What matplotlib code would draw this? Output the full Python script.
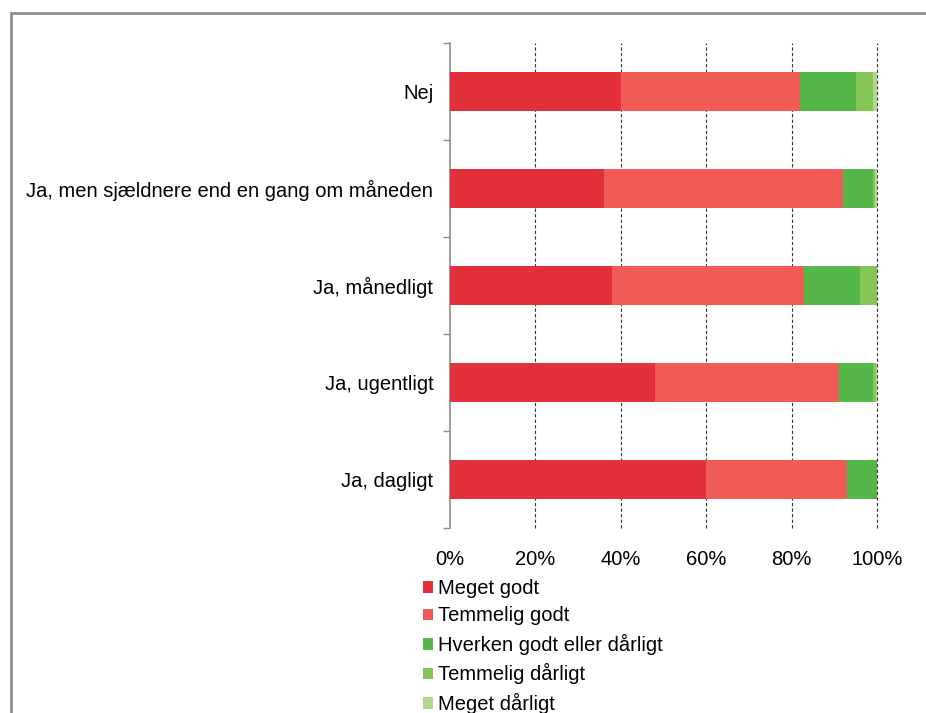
import matplotlib
matplotlib.use("Agg")
from matplotlib import pyplot as plt
from matplotlib.patches import Rectangle, Patch
import numpy as np

plt.rcParams['font.family'] = ['Liberation Sans', 'DejaVu Sans']

categories = ['Nej', 'Ja, men sjældnere end en gang om måneden', 'Ja, månedligt',
              'Ja, ugentligt', 'Ja, dagligt']
series_names = ['Meget godt', 'Temmelig godt', 'Hverken godt eller dårligt',
                'Temmelig dårligt', 'Meget dårligt']
meget_godt = [40, 36, 38, 48, 60]
temmelig_godt = [42, 56, 45, 43, 33]
hverken = [13, 7, 13, 8, 7]
temmelig_daarligt = [4, 0.6, 4, 0.7, 0]
meget_daarligt = [1, 0.4, 0, 0.3, 0]
colors = ['#e3303d', '#f05c55', '#55b74a', '#84c555', '#b0d98c']

values = [meget_godt, temmelig_godt, hverken, temmelig_daarligt, meget_daarligt]

W, H = 926, 713
fig = plt.figure(figsize=(W / 100, H / 100), dpi=100)
ax = fig.add_axes([450 / W, 1 - 528 / H, 427 / W, 485 / H])

y = np.arange(len(categories))
left = np.zeros(len(categories))
for name, vals, col in zip(series_names, values, colors):
    ax.barh(y, vals, left=left, height=0.4, color=col, label=name, zorder=3)
    left += np.array(vals)

ax.set_xlim(0, 100)
ax.set_ylim(len(categories) - 0.5, -0.5)
ax.set_xticks([0, 20, 40, 60, 80, 100])
ax.set_xticklabels(['0%', '20%', '40%', '60%', '80%', '100%'], fontsize=14.5)
ax.set_yticks(y)
ax.set_yticklabels(categories, fontsize=14.5)
ax.set_yticks(np.arange(-0.5, len(categories)), minor=True)
ax.tick_params(axis='y', which='major', length=0, pad=12)
ax.tick_params(axis='y', which='minor', length=5, color='#8c8c8c', width=1)
ax.tick_params(axis='x', length=0, pad=16)

for s in ['top', 'right', 'bottom']:
    ax.spines[s].set_visible(False)
ax.spines['left'].set_color('#8c8c8c')
ax.spines['left'].set_linewidth(1.2)
ax.grid(axis='x', color='#333333', linestyle=(0, (3, 2)), linewidth=0.8, zorder=0)
gls = ax.xaxis.get_gridlines()
gls[0].set_visible(False)
for gl in gls:
    gl.set_clip_on(False)

handles = [Patch(facecolor=c, edgecolor='none') for c in colors]
fig.legend(handles, series_names, loc='upper left', bbox_to_anchor=(423 / W, 1 - 579 / H),
           frameon=False, fontsize=14.5, handlelength=0.5, handleheight=0.5,
           handletextpad=0.25, labelspacing=0.42, borderpad=0, borderaxespad=0)

fig.patches.append(Rectangle((10.5 / W, -0.2), 2, 1 - 12.5 / H + 0.2, transform=fig.transFigure,
                             fill=False, edgecolor='#8c8c8c', linewidth=2))

fig.savefig('out.png', dpi=100)
